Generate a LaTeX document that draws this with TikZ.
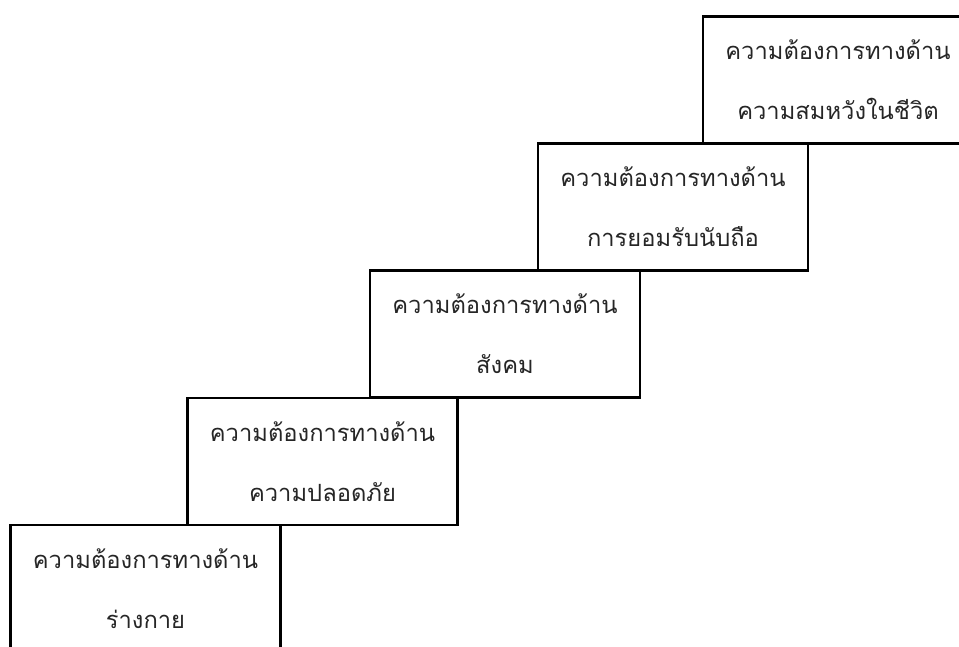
\documentclass[tikz,border=0pt]{standalone}
\usepackage{fontspec}
\newfontfamily\thaifont[Script=Thai]{Loma}

\begin{document}
\begin{tikzpicture}[need/.style={draw, line width=1.3pt, minimum width=5.4cm, minimum height=2.54cm, align=center, text=black!85, font=\thaifont\fontsize{13.5}{34}\selectfont}]
        \useasboundingbox (0,0) rectangle (19.18,12.92);
        \clip (0,0) rectangle (19.18,12.92);
        \node[need] at (2.91,1.15) (A) {ความต้องการทางด้าน\\ร่างกาย};
        \node[need] at (6.45,3.69) (B) {ความต้องการทางด้าน\\ความปลอดภัย};
        \node[need] at (10.10,6.24) (C) {ความต้องการทางด้าน\\สังคม};
        \node[need] at (13.46,8.78) (D) {ความต้องการทางด้าน\\การยอมรับนับถือ};
        \node[need] at (16.76,11.32) (E) {ความต้องการทางด้าน\\ความสมหวังในชีวิต};
    \end{tikzpicture}
\end{document}
